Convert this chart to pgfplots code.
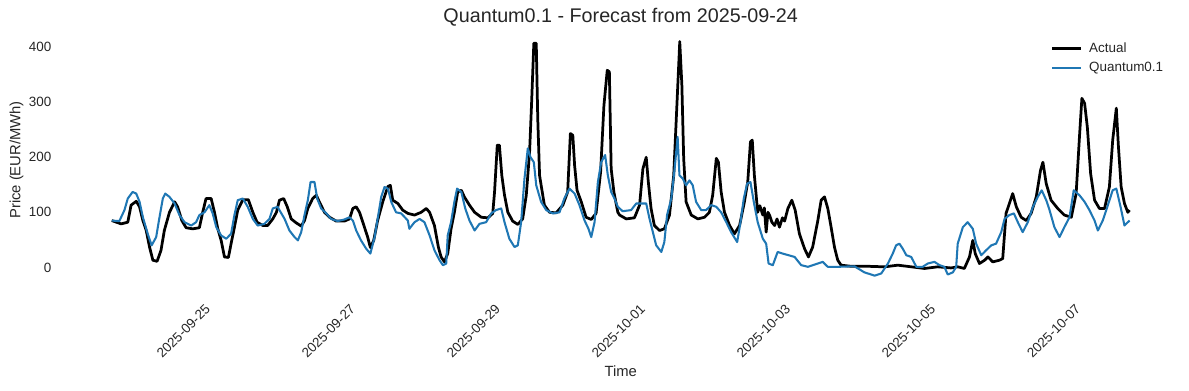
\documentclass[border=0pt]{standalone}
\usepackage{fontspec}
\setmainfont{Liberation Sans}
\usepackage{pgfplots}
\pgfplotsset{compat=1.18}
\definecolor{txt}{RGB}{38,38,38}
\definecolor{mplblue}{RGB}{31,119,180}

\pgfplotstableread[row sep=\\]{
h v\\
-9.0 85\\ -5.9 79\\ -3.7 82\\ -2.6 113\\ -0.9 120\\ 0.2 110\\ 1.3 85\\ 2.4 67\\ 3.5 37\\ 4.6 13\\
6.0 11\\ 7.3 31\\ 8.4 67\\ 10.1 100\\ 11.8 119\\ 12.8 110\\ 14.2 85\\ 15.6 72\\ 17.8 70\\ 20.0 72\\
21.1 100\\ 22.2 125\\ 23.9 125\\ 25.0 100\\ 26.1 70\\ 27.2 49\\ 28.3 19\\ 29.6 18\\ 30.5 43\\ 31.6 73\\
32.7 104\\ 34.4 123\\ 36.2 123\\ 37.7 100\\ 39.1 82\\ 41.0 76\\ 42.6 76\\ 44.3 88\\ 45.5 100\\ 46.5 122\\
47.9 125\\ 49.1 110\\ 50.4 88\\ 52.0 81\\ 53.7 75\\ 54.8 85\\ 55.9 107\\ 57.5 125\\ 58.7 131\\ 59.7 119\\
61.4 100\\ 63.1 91\\ 65.3 84\\ 68.0 84\\ 69.7 88\\ 70.8 107\\ 71.9 110\\ 73.0 100\\ 74.1 82\\ 75.7 55\\
76.6 36\\ 77.7 49\\ 79.0 85\\ 80.7 119\\ 82.4 147\\ 83.2 149\\ 84.0 122\\ 85.7 116\\ 87.3 104\\ 89.0 98\\
91.2 95\\ 93.4 100\\ 95.1 107\\ 96.2 100\\ 97.8 76\\ 99.1 37\\ 100.0 19\\ 101.1 10\\ 102.2 25\\ 103.3 70\\
104.4 100\\ 105.5 137\\ 106.7 140\\ 107.7 128\\ 109.4 113\\ 111.1 100\\ 113.3 91\\ 115.5 90\\ 117.1 98\\ 117.7 137\\
118.6 222\\ 119.3 222\\ 120.1 167\\ 121.0 131\\ 122.1 100\\ 123.7 84\\ 125.4 78\\ 127.0 88\\ 128.2 131\\ 129.3 210\\
130.0 304\\ 130.7 407\\ 131.5 407\\ 132.0 270\\ 132.6 167\\ 133.3 143\\ 134.2 113\\ 135.9 100\\ 138.1 99\\ 140.3 113\\
141.9 137\\ 142.8 243\\ 143.6 240\\ 144.2 185\\ 145.0 140\\ 146.4 119\\ 148.0 91\\ 149.7 87\\ 151.3 98\\ 152.8 173\\
153.9 294\\ 155.0 358\\ 155.7 355\\ 156.3 179\\ 157.2 137\\ 158.5 100\\ 159.1 95\\ 161.3 88\\ 164.0 90\\ 165.7 113\\
166.8 179\\ 167.9 200\\ 168.6 155\\ 169.5 107\\ 170.6 76\\ 172.3 67\\ 173.9 70\\ 175.6 95\\ 177.0 167\\ 178.1 300\\
179.0 410\\ 179.7 331\\ 180.3 198\\ 181.1 119\\ 182.8 95\\ 185.0 88\\ 187.2 91\\ 188.8 100\\ 189.9 131\\ 191.1 198\\
191.8 191\\ 192.7 137\\ 193.8 100\\ 195.5 76\\ 197.1 61\\ 198.8 76\\ 200.4 119\\ 201.5 155\\ 202.4 228\\ 203.0 231\\
203.7 167\\ 204.8 100\\ 205.5 112\\ 206.5 95\\ 207.0 108\\ 207.6 64\\ 208.2 100\\ 208.7 95\\ 209.5 82\\ 210.4 76\\
211.2 88\\ 212.0 73\\ 213.0 90\\ 213.7 84\\ 214.8 107\\ 216.1 122\\ 217.2 104\\ 218.6 61\\ 220.3 34\\ 221.6 19\\
223.0 37\\ 224.7 85\\ 225.8 122\\ 226.9 128\\ 228.0 107\\ 229.1 73\\ 230.2 37\\ 231.3 13\\ 232.4 4\\ 235.7 2\\
241.1 2\\ 246.8 1\\ 251.2 4\\ 255.6 1\\ 260.0 -2\\ 264.4 1\\ 268.8 -1\\ 271.0 1\\ 273.2 -2\\ 274.9 19\\
276.0 49\\ 276.8 25\\ 278.2 7\\ 279.9 13\\ 281.0 19\\ 282.6 10\\ 284.8 13\\ 285.9 16\\ 287.0 98\\ 288.1 116\\
289.2 134\\ 290.4 110\\ 292.0 91\\ 293.7 85\\ 295.3 98\\ 297.0 128\\ 298.4 176\\ 299.2 191\\ 300.3 152\\ 301.9 122\\
304.1 107\\ 306.3 95\\ 308.6 91\\ 310.2 134\\ 311.3 237\\ 312.1 307\\ 313.0 298\\ 313.9 255\\ 315.0 170\\ 316.3 122\\
317.9 107\\ 319.6 107\\ 321.2 146\\ 322.3 231\\ 323.5 289\\ 324.2 219\\ 325.1 146\\ 326.2 116\\ 327.3 100\\ 327.9 104\\
}\actual

\pgfplotstableread[row sep=\\]{
h v\\
-9.0 85\\ -6.5 84\\ -4.8 104\\ -3.7 125\\ -2.1 137\\ -0.9 134\\ 0.2 119\\ 1.3 91\\ 2.9 61\\ 4.2 40\\
5.7 55\\ 6.8 91\\ 7.9 125\\ 8.7 134\\ 10.1 128\\ 11.8 116\\ 13.4 95\\ 15.1 82\\ 17.3 76\\ 18.9 82\\
20.0 95\\ 21.7 100\\ 23.3 113\\ 24.4 98\\ 25.6 73\\ 27.2 58\\ 28.9 52\\ 30.5 61\\ 31.6 95\\ 32.7 122\\
34.4 125\\ 36.0 110\\ 37.7 88\\ 39.3 76\\ 41.5 79\\ 43.2 88\\ 44.3 107\\ 45.9 110\\ 46.5 104\\ 48.2 88\\
49.8 67\\ 51.5 55\\ 52.6 49\\ 53.7 64\\ 54.8 95\\ 55.9 122\\ 56.8 155\\ 58.1 155\\ 59.0 125\\ 60.3 107\\
62.0 98\\ 63.6 88\\ 65.8 84\\ 68.0 87\\ 69.7 91\\ 70.8 85\\ 71.9 67\\ 73.5 49\\ 75.2 34\\ 76.6 25\\
78.0 55\\ 79.0 88\\ 80.2 128\\ 81.3 146\\ 82.4 143\\ 83.5 119\\ 85.1 100\\ 86.8 98\\ 89.0 85\\ 89.5 70\\
91.2 82\\ 92.9 88\\ 94.5 82\\ 96.2 58\\ 97.8 31\\ 99.5 13\\ 100.6 4\\ 101.7 7\\ 102.2 58\\ 103.3 82\\
104.4 119\\ 105.3 143\\ 106.7 137\\ 108.0 107\\ 109.4 85\\ 111.1 67\\ 112.7 79\\ 114.9 82\\ 116.6 98\\ 118.2 104\\
119.9 107\\ 121.0 82\\ 122.6 52\\ 124.3 37\\ 125.4 40\\ 126.5 82\\ 127.6 161\\ 128.7 216\\ 129.6 200\\ 130.7 191\\
131.5 149\\ 133.1 119\\ 134.8 104\\ 137.0 98\\ 139.2 100\\ 140.8 125\\ 142.5 143\\ 144.2 134\\ 145.8 113\\ 147.5 85\\
148.8 70\\ 149.7 55\\ 150.8 82\\ 151.9 155\\ 153.0 191\\ 154.3 204\\ 155.2 167\\ 156.3 137\\ 157.4 125\\ 158.5 110\\
160.1 102\\ 162.9 104\\ 164.6 116\\ 166.2 116\\ 167.9 116\\ 169.0 88\\ 170.1 64\\ 171.2 40\\ 172.9 28\\ 173.9 46\\
174.8 95\\ 176.2 125\\ 177.3 179\\ 178.3 237\\ 178.9 167\\ 180.0 161\\ 181.1 149\\ 182.2 158\\ 183.3 149\\ 184.4 119\\
186.1 104\\ 187.7 104\\ 189.4 113\\ 191.1 110\\ 192.7 100\\ 194.4 82\\ 196.0 64\\ 198.0 46\\ 199.1 82\\ 200.2 125\\
201.3 152\\ 202.4 155\\ 203.5 119\\ 204.8 82\\ 206.5 52\\ 207.6 43\\ 208.4 7\\ 209.8 4\\ 211.4 28\\ 213.1 25\\
217.0 19\\ 219.2 4\\ 221.4 1\\ 224.7 7\\ 226.3 10\\ 228.0 1\\ 231.3 1\\ 236.8 2\\ 240.1 -9\\ 243.5 -15\\
245.7 -11\\ 247.9 7\\ 249.5 25\\ 250.6 40\\ 251.7 43\\ 252.8 34\\ 254.0 22\\ 255.6 19\\ 257.3 1\\ 259.4 1\\
261.1 7\\ 263.3 10\\ 265.0 4\\ 266.6 1\\ 267.7 -13\\ 269.4 -9\\ 270.5 1\\ 271.0 43\\ 272.7 73\\ 274.3 82\\
276.0 70\\ 277.1 43\\ 278.8 22\\ 280.4 31\\ 282.1 40\\ 283.7 43\\ 285.4 64\\ 286.5 88\\ 288.1 95\\ 289.6 98\\
290.9 82\\ 292.5 64\\ 294.2 82\\ 295.9 110\\ 297.5 128\\ 298.8 140\\ 300.3 122\\ 301.4 104\\ 303.0 73\\ 304.7 55\\
306.3 73\\ 308.0 91\\ 309.4 140\\ 311.3 131\\ 313.0 119\\ 314.6 104\\ 316.3 85\\ 317.4 67\\ 319.0 85\\ 320.7 113\\
322.3 140\\ 323.5 143\\ 324.9 110\\ 326.2 76\\ 327.3 82\\ 327.9 85\\
}\forecast

\begin{document}
\begin{tikzpicture}
\useasboundingbox (-44.5pt,-72.9pt) rectangle (822.8pt,211.7pt);
\begin{axis}[
  at={(0pt,0pt)}, anchor=south west,
  scale only axis, width=816.5pt, height=190pt,
  xmin=-25.8, xmax=344.7, ymin=-41.5, ymax=431.5,
  axis lines*=left, axis line style={draw=none},
  major tick length=0pt, tick style={draw=none},
  xtick={24,72,120,168,216,264,312},
  xticklabels={2025-09-25,2025-09-27,2025-09-29,2025-10-01,2025-10-03,2025-10-05,2025-10-07},
  ytick={0,100,200,300,400},
  /pgf/number format/assume math mode=true,
  tick label style={font=\fontsize{9.8}{11}\selectfont, text=txt},
  xticklabel style={yshift=-14.7pt, rotate=45, anchor=south east, inner sep=0pt},
  yticklabel style={anchor=east, inner sep=0pt, xshift=-6.8pt},
  title={Quantum0.1 - Forecast from 2025-09-24},
  title style={at={([yshift=-0.8pt]axis description cs:0.5,1)}, anchor=base, font=\fontsize{14.4}{17}\selectfont, text=txt, inner sep=0pt},
  xlabel={Time},
  xlabel style={at={([yshift=-62.7pt]axis description cs:0.5,0)}, anchor=base, font=\fontsize{10.8}{13}\selectfont, text=txt, inner sep=0pt},
  ylabel={Price (EUR/MWh)},
  ylabel style={at={([xshift=-29.6pt]axis description cs:0,0.5)}, anchor=base, font=\fontsize{10.8}{13}\selectfont, text=txt, inner sep=0pt},
  legend style={at={([yshift=-7.0pt]axis description cs:0.8840,1)}, anchor=north west, draw=none, fill=none, inner sep=0pt,
    font=\fontsize{9.8}{11}\selectfont, text=txt, row sep=2.1pt, cells={anchor=west}},
  legend image code/.code={\draw[#1] (0pt,0pt) -- (21pt,0pt); \path (24pt,0pt);},
]
\addplot[black, line width=2pt, line join=round] table[x=h, y=v] {\actual};
\addlegendentry{Actual}
\addplot[mplblue, line width=1.5pt, line join=round] table[x=h, y=v] {\forecast};
\addlegendentry{Quantum0.1}
\end{axis}
\end{tikzpicture}
\end{document}
